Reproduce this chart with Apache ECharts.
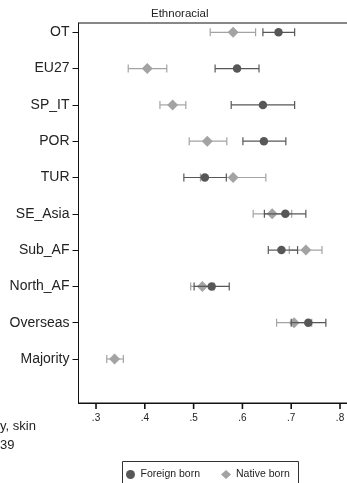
<!DOCTYPE html>
<html>
<head>
<meta charset="utf-8">
<script src="https://cdn.jsdelivr.net/npm/echarts@6/dist/echarts.min.js"></script>
<style>
html,body{margin:0;padding:0;background:#fff;}
#chart{width:347px;height:483px;}
</style>
</head>
<body>
<div id="chart"></div>
<script>
const categories = ['OT','EU27','SP_IT','POR','TUR','SE_Asia','Sub_AF','North_AF','Overseas','Majority'];
const foreignMean = [0.674,0.589,0.642,0.644,0.523,0.688,0.680,0.537,0.735,null];
const foreignLow  = [0.642,0.544,0.577,0.601,0.480,0.645,0.653,0.501,0.700,null];
const foreignHigh = [0.707,0.634,0.707,0.689,0.567,0.730,0.713,0.573,0.771,null];
const nativeMean  = [0.581,0.405,0.457,0.528,0.581,0.661,0.730,0.518,0.706,0.338];
const nativeLow   = [0.534,0.366,0.431,0.491,0.514,0.622,0.696,0.494,0.670,0.322];
const nativeHigh  = [0.627,0.445,0.484,0.568,0.648,0.701,0.763,0.542,0.742,0.356];
const xTicks = [0.3,0.4,0.5,0.6,0.7,0.8];
const titleText = 'Ethnoracial';
const legendNames = ['Foreign born','Native born'];

const FOREIGN = '#575757';
const NATIVE = '#a3a3a3';
const FONT = '"Liberation Sans", Arial, sans-serif';

// row positions on the y value axis: category i sits at i+1 (top to bottom)
const rowPos = categories.map((c,i)=> i+1);
const YMIN = 0.744, YMAX = 11.212;
const XMIN = 0.2641, XMAX = 0.8266;

function pts(mean){ return mean.map((v,i)=> v==null ? null : [v,rowPos[i]]).filter(Boolean); }
function bars(lo,hi){ return lo.map((v,i)=> v==null ? null : [rowPos[i],v,hi[i]]).filter(Boolean); }
function errRender(color){
  return function(params, api){
    const y = api.value(0), lo = api.value(1), hi = api.value(2);
    const a = api.coord([lo,y]), b = api.coord([hi,y]);
    const h = 4;
    const st = {stroke: color, lineWidth: 1.2};
    return {type:'group', children:[
      {type:'line', shape:{x1:a[0],y1:a[1],x2:b[0],y2:b[1]}, style:st},
      {type:'line', shape:{x1:a[0],y1:a[1]-h,x2:a[0],y2:a[1]+h}, style:st},
      {type:'line', shape:{x1:b[0],y1:b[1]-h,x2:b[0],y2:b[1]+h}, style:st}
    ]};
  };
}

const chart = echarts.init(document.getElementById('chart'), null, {renderer:'canvas'});
const staticGraphics = [
  {type:'rect', shape:{x:122.5, y:461.5, width:176, height:40}, style:{fill:null, stroke:'#333', lineWidth:1}, silent:true, z:-1},
  {type:'text', left:0, top:420, style:{text:'y, skin', font:'13px "Liberation Sans", Arial, sans-serif', fill:'#222'}},
  {type:'text', left:0, top:439, style:{text:'39', font:'13px "Liberation Sans", Arial, sans-serif', fill:'#222'}}
];
chart.setOption({
  animation:false,
  backgroundColor:'#fff',
  title:{text:titleText, left:151, top:8, padding:0,
    textStyle:{fontFamily:FONT, fontSize:11.5, fontWeight:'normal', color:'#222'}},
  legend:{
    data:[{name:legendNames[0], icon:'circle'},{name:legendNames[1], icon:'diamond'}],
    left:122, top:462, orient:'horizontal',
    padding:[7,8,8,4], itemGap:21, itemWidth:10, itemHeight:9,
    textStyle:{fontFamily:FONT, fontSize:10.5, color:'#222'}
  },
  grid:{left:78.5, top:23, right:-6, bottom:80, show:true, borderColor:'#111', borderWidth:1,
    containLabel:false, outerBoundsMode:'none'},
  xAxis:{
    type:'value', min:XMIN, max:XMAX, position:'bottom',
    splitLine:{show:false},
    axisLine:{show:true, lineStyle:{color:'#111', width:1}},
    axisTick:{show:false},
    axisLabel:{customValues:xTicks, margin:10, fontFamily:FONT, fontSize:10, color:'#222',
      formatter:v=> String(Math.round(v*10)/10).replace(/^0/,'')}
  },
  yAxis:{
    type:'value', inverse:true, min:YMIN, max:YMAX,
    splitLine:{show:false},
    axisLine:{show:true, lineStyle:{color:'#111', width:1}},
    axisTick:{show:true, length:6, customValues:rowPos, lineStyle:{color:'#111'}},
    axisLabel:{customValues:rowPos, margin:9, fontFamily:FONT, fontSize:14, color:'#222',
      formatter:v=> categories[Math.round(v)-1]}
  },
  graphic:staticGraphics,
  series:[
    {type:'custom', name:'nb_err', renderItem:errRender(NATIVE), data:bars(nativeLow,nativeHigh),
      encode:{x:[1,2], y:0}, silent:true, z:2},
    {type:'scatter', name:legendNames[1], symbol:'diamond', symbolSize:[11,11], data:pts(nativeMean),
      itemStyle:{color:NATIVE, opacity:1}, z:3},
    {type:'custom', name:'fb_err', renderItem:errRender(FOREIGN), data:bars(foreignLow,foreignHigh),
      encode:{x:[1,2], y:0}, silent:true, z:4},
    {type:'scatter', name:legendNames[0], symbol:'circle', symbolSize:8.5, data:pts(foreignMean),
      itemStyle:{color:FOREIGN, opacity:1}, z:5}
  ]
});
// x-axis tick marks below the axis line, positioned through the library's own scale
const yBottom = chart.convertToPixel({yAxisIndex:0}, YMAX);
const tickGraphics = xTicks.map(v => {
  const x = chart.convertToPixel({xAxisIndex:0}, v);
  return {type:'line', shape:{x1:x, y1:yBottom, x2:x, y2:yBottom+6},
    style:{stroke:'#111', lineWidth:1.6}, silent:true, z:100, zlevel:1};
});
chart.setOption({graphic: staticGraphics.concat(tickGraphics)}, {replaceMerge:['graphic']});
</script>
</body>
</html>
